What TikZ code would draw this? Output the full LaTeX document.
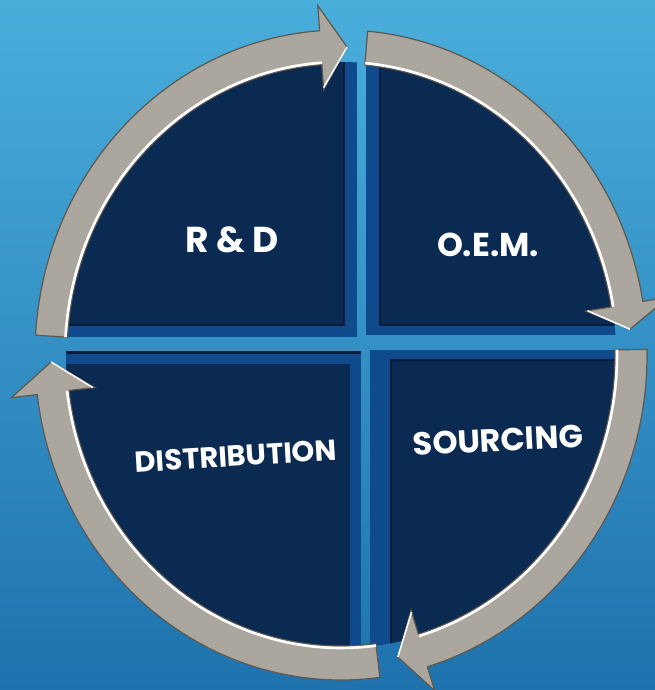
\documentclass[tikz,border=0pt]{standalone}
\usepackage{fontspec}
\setmainfont{Poppins}
\definecolor{bgtop}{HTML}{4AAEDB}
\definecolor{bgbot}{HTML}{1E72AD}
\definecolor{face}{HTML}{0A2A52}
\definecolor{side}{HTML}{0F4A8C}
\definecolor{shadowc}{HTML}{071D3D}
\definecolor{arrowfill}{HTML}{ABA79F}
\definecolor{arrowedge}{HTML}{5E5850}
\tikzset{
  sideface/.style={fill=side},
  topface/.style={fill=face},
  ringarrowstyle/.style={fill=arrowfill, draw=arrowedge, line width=1.2pt, line join=miter},
  highlight/.style={draw=white, line width=2.6pt},
  label/.style={text=white, inner sep=0pt},
  lsize/.style={font=\bfseries\fontsize{#1}{#1}\selectfont}
}
\newcommand\ringarrow[3]{%
  \filldraw[ringarrowstyle] ({306*cos(#1)},{325*sin(#1)})
    arc[start angle=#1, end angle=#2, x radius=306, y radius=325]
    -- ({332*cos(#2)},{350*sin(#2)})
    -- ({290*cos(#3)},{308*sin(#3)})
    -- ({248*cos(#2)},{266*sin(#2)})
    -- ({274*cos(#2)},{291*sin(#2)})
    arc[start angle=#2, end angle=#1, x radius=274, y radius=291]
    -- cycle;
  \draw[highlight] ({276*cos(#1)},{293*sin(#1)})
    arc[start angle=#1, end angle=#2, x radius=276, y radius=293];
  \draw[white, line width=1.5pt] ({290*cos(#3)},{308*sin(#3)}) -- ({250*cos(#2)},{268*sin(#2)});
}
\begin{document}
\begin{tikzpicture}[x=1pt,y=1pt]
\useasboundingbox (-341,-335) rectangle (314,355);
\shade[top color=bgtop, bottom color=bgbot] (-341,-335) rectangle (314,355);

% sectors
\begin{scope}
  \clip (0,0) ellipse [x radius=275, y radius=293];
  % top-left
  \fill[sideface] (-400,18) rectangle (16,400);
  \fill[topface] (-400,30) rectangle (3,400);
  \draw[shadowc, line width=1.5pt] (-400,30) -- (3,30) -- (3,400);
  % top-right
  \fill[sideface] (25,20) rectangle (400,400);
  \fill[topface] (39,30) rectangle (400,400);
  \draw[shadowc, line width=1.5pt] (39,400) -- (39,30) -- (400,30);
  % bottom-left
  \fill[sideface] (-400,-400) rectangle (20,3);
  \fill[topface] (-400,-400) rectangle (9,-9);
  \draw[shadowc, line width=3pt] (-400,2) -- (20,2);
  % bottom-right
  \fill[sideface] (29,-400) rectangle (400,5);
  \fill[topface] (50,-400) rectangle (400,-5);
  \draw[shadowc, line width=1.5pt] (50,-400) -- (50,-5) -- (400,-5);
\end{scope}

% arrows
\ringarrow{176.5}{94}{88.8}
\ringarrow{85}{9.5}{4.8}
\ringarrow{1}{-73.6}{-78.7}
\ringarrow{-82.7}{-173}{-178.7}

% labels
\node[label, lsize=36] (rd) at (-109,115) {R \& D};
\node[label, lsize=33] (oem) at (147,110) {O.E.M.};
\node[label, lsize=29, rotate=3.5] (dist) at (-105,-101) {DISTRIBUTION};
\node[label, lsize=32, rotate=3] (src) at (157,-85) {SOURCING};
\end{tikzpicture}
\end{document}
